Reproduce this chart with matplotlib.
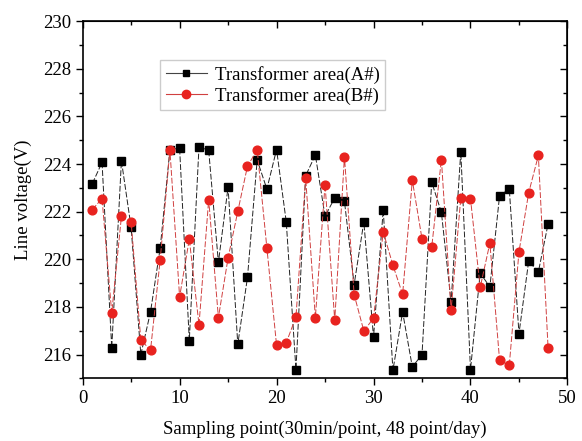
import matplotlib
matplotlib.use('Agg')
import matplotlib.pyplot as plt
from matplotlib.lines import Line2D
from matplotlib.ticker import MultipleLocator

plt.rcParams['font.family'] = ['Liberation Serif', 'DejaVu Serif']

# sampling points 1..48
points = list(range(1, 49))

# transformer area A# (black squares)
volt_a = [223.18, 224.07, 216.28, 224.14, 221.34, 216.00, 217.79, 220.48, 224.60, 224.67,
          216.59, 224.73, 224.57, 219.87, 223.03, 216.43, 219.24, 224.17, 222.95, 224.61,
          221.57, 215.37, 223.51, 224.38, 221.81, 222.58, 222.44, 218.94, 221.57, 216.73,
          222.08, 215.34, 217.79, 215.48, 216.00, 223.24, 221.97, 218.20, 224.52, 215.37,
          219.42, 218.84, 222.67, 222.97, 216.88, 219.92, 219.47, 221.48]

# transformer area B# (red circles)
volt_b = [222.09, 222.55, 217.75, 221.80, 221.56, 216.62, 216.18, 219.99, 224.59, 218.42,
          220.85, 217.25, 222.51, 217.55, 220.06, 222.01, 223.91, 224.60, 220.48, 216.39,
          216.50, 217.58, 223.42, 217.55, 223.14, 217.44, 224.31, 218.52, 216.99, 217.53,
          221.15, 219.75, 218.53, 223.32, 220.86, 220.51, 224.19, 217.86, 222.58, 222.54,
          218.82, 220.68, 215.76, 215.55, 220.31, 222.79, 224.36, 216.29]

fig = plt.figure(figsize=(5.82, 4.41), dpi=100)
ax = fig.add_axes([0.142, 0.142, 0.833, 0.810])

ax.plot(points, volt_a, color='#222222', lw=0.7, ls=(0, (6, 2)),
        marker='s', ms=5.3, mfc='black', mec='black', zorder=2)
ax.plot(points, volt_b, color='#d04040', lw=0.7, ls=(0, (6, 2)),
        marker='o', ms=6.3, mfc='#e8231f', mec='#e8231f', zorder=3)

ax.set_xlim(0, 50)
ax.set_ylim(215, 230)
ax.xaxis.set_major_locator(MultipleLocator(10))
ax.xaxis.set_minor_locator(MultipleLocator(5))
ax.yaxis.set_major_locator(MultipleLocator(2))
ax.yaxis.set_minor_locator(MultipleLocator(1))
ax.tick_params(axis='both', which='major', direction='out', length=5, width=1,
               labelsize=13.5)
ax.tick_params(axis='both', which='minor', direction='out', length=3, width=1)

# inward ticks on top and right, drawn with a twin axes so the bottom/left stay outward
top = ax.secondary_xaxis('top')
top.xaxis.set_major_locator(MultipleLocator(10))
top.xaxis.set_minor_locator(MultipleLocator(5))
top.tick_params(which='major', direction='in', length=5, width=1, labeltop=False)
top.tick_params(which='minor', direction='in', length=3, width=1)
right = ax.secondary_yaxis('right')
right.yaxis.set_major_locator(MultipleLocator(2))
right.yaxis.set_minor_locator(MultipleLocator(1))
right.tick_params(which='major', direction='in', length=5, width=1, labelright=False)
right.tick_params(which='minor', direction='in', length=3, width=1)

for s in ax.spines.values():
    s.set_linewidth(1.2)

ax.set_xlabel('Sampling point(30min/point, 48 point/day)', fontsize=13.5, labelpad=10)
ax.set_ylabel('Line voltage(V)', fontsize=13.5, labelpad=8)

handles = [
    Line2D([], [], color='#444444', lw=0.8, marker='s', ms=5, mfc='black', mec='black'),
    Line2D([], [], color='#d04040', lw=0.8, marker='o', ms=6, mfc='#e8231f', mec='#e8231f'),
]
ax.legend(handles, ['Transformer area(A#)', 'Transformer area(B#)'],
          loc='upper left', bbox_to_anchor=(0.16, 0.89), fontsize=13.5,
          frameon=True, fancybox=False, edgecolor='#cccccc', framealpha=1,
          handlelength=2.2, handletextpad=0.4, borderpad=0.3, labelspacing=0.15,
          borderaxespad=0)

fig.savefig('out.png', dpi=100)
